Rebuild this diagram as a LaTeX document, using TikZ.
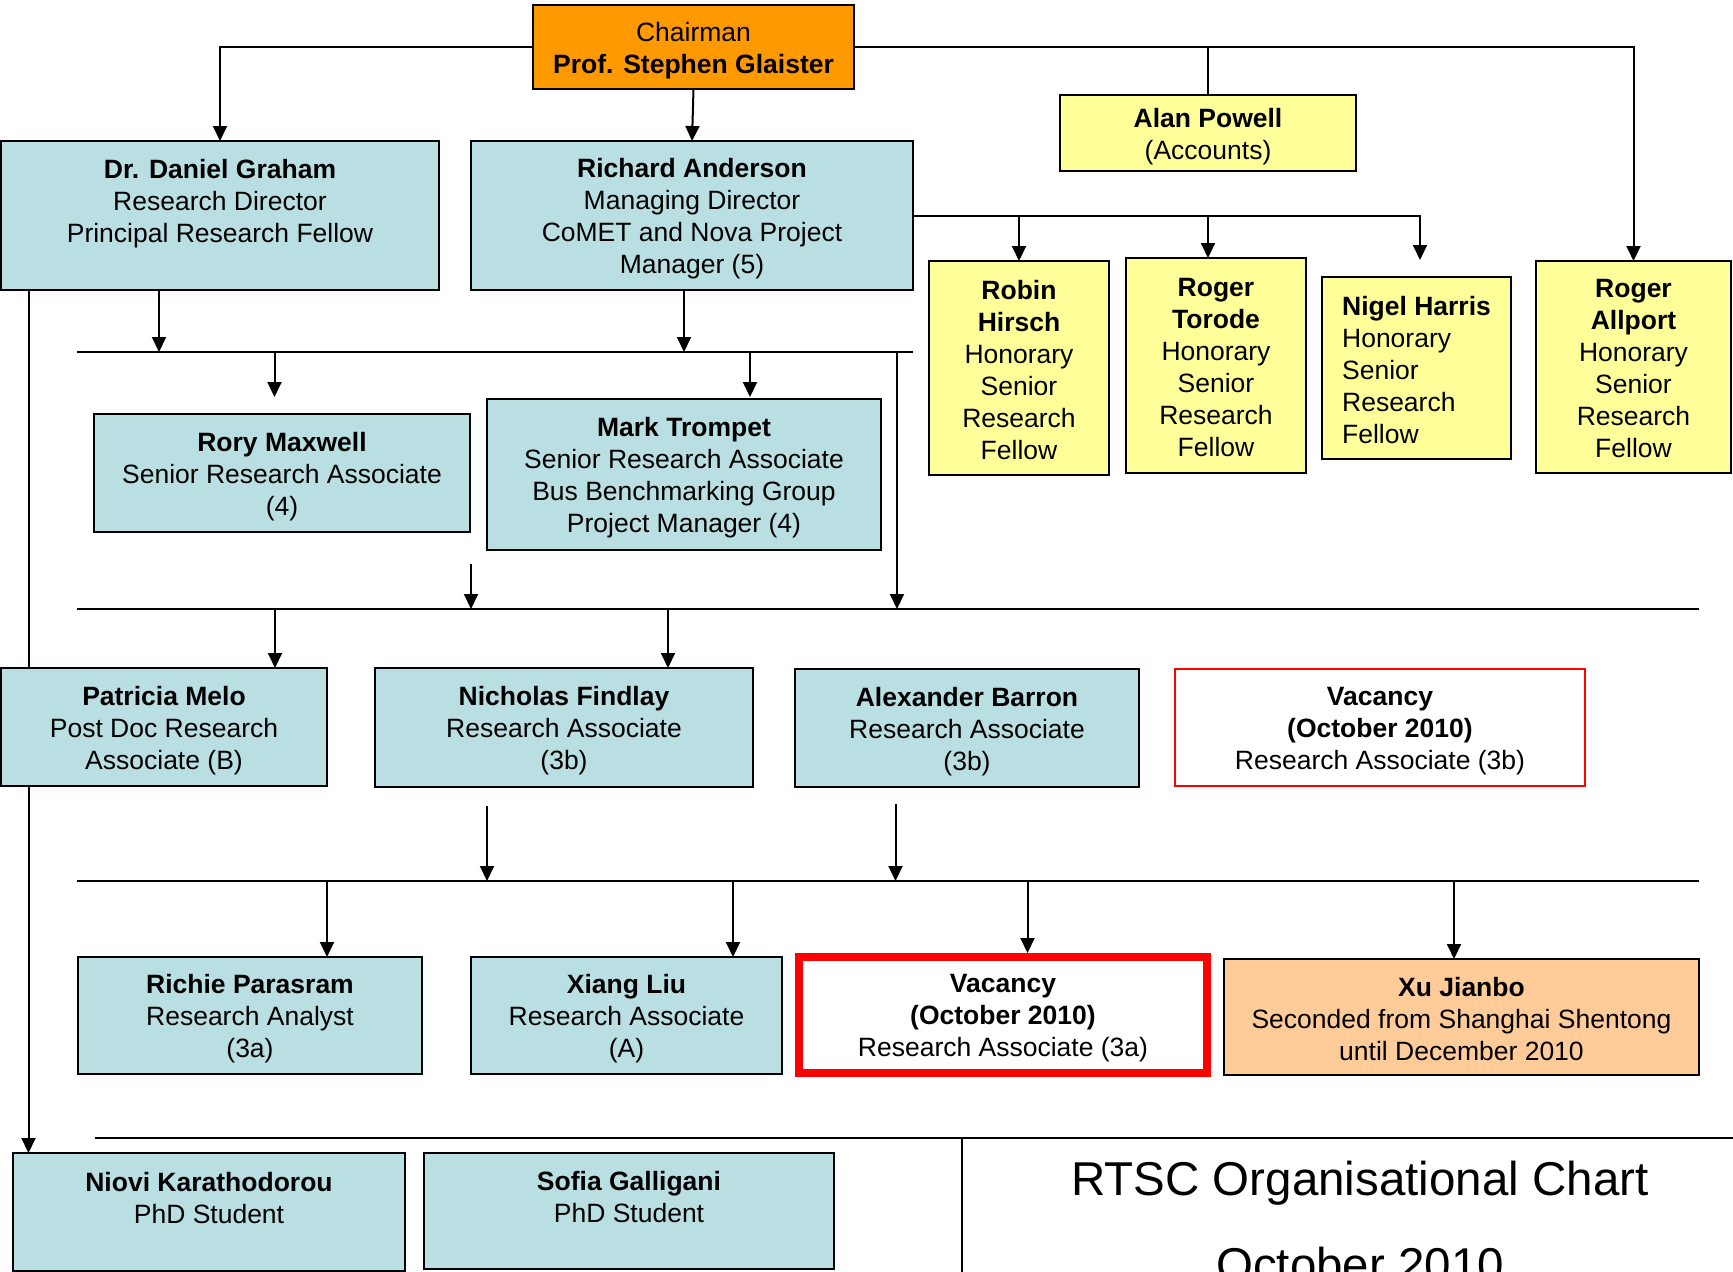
\documentclass[tikz,border=0pt]{standalone}
\usepackage{fontspec}
\setmainfont{Liberation Sans}
\usetikzlibrary{arrows.meta}
\pgfdeclarelayer{bg}
\pgfsetlayers{bg,main}
\definecolor{boxblue}{RGB}{185,223,227}
\definecolor{boxyellow}{RGB}{255,255,153}
\definecolor{boxorange}{RGB}{255,153,0}
\definecolor{boxpeach}{RGB}{255,204,153}
\definecolor{vacred}{RGB}{255,0,0}
\newcommand\topstrut{\rule{0pt}{28.5pt}}
\newcommand\botstrut{\rule[-3.5pt]{0pt}{0pt}}
% #1 box style, #2 name, #3 centre, #4 width, #5 height, #6 text options, #7 text
\newcommand\orgnode[7]{%
  \node[#1, minimum width=#4pt, minimum height=#5pt] (#2) at (#3) {};
  \node[boxtext, #6] (#2-text) at ([yshift=-3.5pt]#2.center) {#7};}
\begin{document}
\begin{tikzpicture}[x=1pt,y=-1pt,
  box/.style={draw=black, line width=2.5pt, inner sep=0pt, outer sep=0pt},
  boxtext/.style={inner sep=0pt, align=center, font=\fontsize{26.5}{32}\selectfont,
    execute at begin node=\topstrut, execute at end node=\botstrut},
  bluebox/.style={box, fill=boxblue},
  yellowbox/.style={box, fill=boxyellow},
  conn/.style={line width=2pt, draw=black},
  arr/.style={conn, -{Triangle[length=15pt,width=14pt]}},
  titletext/.style={font=\fontsize{47.5}{57}\selectfont, anchor=base, inner sep=0pt}]
\useasboundingbox (0,0) rectangle (1733,1272);
\clip (0,0) rectangle (1733,1272);

% ---- boxes ----
\orgnode{box, fill=boxorange}{chair}{693.5,47}{321}{84}{}
  {Chairman\\\textbf{Prof. Stephen Glaister}}
\orgnode{yellowbox}{powell}{1208,133}{296}{76}{}
  {\textbf{Alan Powell}\\(Accounts)}
\orgnode{bluebox}{graham}{220,215.5}{438}{149}{}
  {\textbf{Dr. Daniel Graham}\\Research Director\\Principal Research Fellow\\}
\orgnode{bluebox}{anderson}{692,215.5}{442}{149}{}
  {\textbf{Richard Anderson}\\Managing Director\\CoMET and Nova Project\\Manager (5)}
\orgnode{yellowbox}{robin}{1019,368}{180}{214}{}
  {\textbf{Robin}\\\textbf{Hirsch}\\Honorary\\Senior\\Research\\Fellow}
\orgnode{yellowbox, line width=2.8pt}{torode}{1216,365.5}{180}{215}{}
  {\textbf{Roger}\\\textbf{Torode}\\Honorary\\Senior\\Research\\Fellow}
\orgnode{yellowbox, line width=2.8pt}{nigel}{1416.5,368}{189}{182}{align=left}
  {\textbf{Nigel Harris}\\Honorary\\Senior\\Research\\Fellow}
\orgnode{yellowbox}{allport}{1633.5,367}{195}{212}{}
  {\textbf{Roger}\\\textbf{Allport}\\Honorary\\Senior\\Research\\Fellow}
\orgnode{bluebox}{rory}{282,473}{376}{118}{}
  {\textbf{Rory Maxwell}\\Senior Research Associate\\(4)}
\orgnode{bluebox}{mark}{684,474.5}{394}{151}{}
  {\textbf{Mark Trompet}\\Senior Research Associate\\Bus Benchmarking Group\\Project Manager (4)}
\orgnode{bluebox}{patricia}{164,727}{326}{118}{}
  {\textbf{Patricia Melo}\\Post Doc Research\\Associate (B)}
\orgnode{bluebox}{nicholas}{564,727.5}{378}{119}{}
  {\textbf{Nicholas Findlay}\\Research Associate\\(3b)}
\orgnode{bluebox}{alexander}{967,728}{344}{118}{}
  {\textbf{Alexander Barron}\\Research Associate\\(3b)}
\orgnode{box, draw=vacred, fill=white}{vacb}{1380,727.5}{410}{117}{}
  {\textbf{Vacancy}\\\textbf{(October 2010)}\\Research Associate (3b)}
\orgnode{bluebox}{richie}{250,1015.5}{344}{117}{}
  {\textbf{Richie Parasram}\\Research Analyst\\(3a)}
\orgnode{bluebox}{xiang}{626.5,1015.5}{311}{117}{}
  {\textbf{Xiang Liu}\\Research Associate\\(A)}
\orgnode{box, draw=vacred, fill=white, line width=8pt, outer sep=4pt}{vaca}{1003,1015}{408}{116}{}
  {\textbf{Vacancy}\\\textbf{(October 2010)}\\Research Associate (3a)}
\orgnode{box, fill=boxpeach}{xu}{1461.5,1017}{475}{116}{}
  {\textbf{Xu Jianbo}\\Seconded from Shanghai Shentong\\until December 2010}
\orgnode{bluebox}{niovi}{209,1212}{392}{118}{}
  {\textbf{Niovi Karathodorou}\\PhD Student\\}
\orgnode{bluebox}{sofia}{629,1211}{410}{116}{}
  {\textbf{Sofia Galligani}\\PhD Student\\}

\node[titletext] (title1) at (1360,1195) {RTSC Organisational Chart};
\node[titletext] (title2) at (1360,1281) {October 2010};

% ---- helper coordinates ----
\coordinate (b1l) at (77,352);  \coordinate (b1r) at (913,352);
\coordinate (b2l) at (77,609);  \coordinate (b2r) at (1699,609);
\coordinate (b3l) at (77,881);  \coordinate (b3r) at (1699,881);
\coordinate (b4l) at (95,1138); \coordinate (b4r) at (1733,1138);
\coordinate (nigelarr) at (1420,260);
\coordinate (roryarr) at (274.5,397);
\coordinate (markarr) at (750,397);
\coordinate (rv) at (897,352);
\coordinate (f1) at (471,564);
\coordinate (f2) at (487,806);
\coordinate (f3) at (895.5,804);
\coordinate (lv) at (28.5,290);
\coordinate (dvt) at (962,1138);
\coordinate (dvb) at (962,1272);

% ---- connectors ----
\begin{pgfonlayer}{bg}
\draw[arr] (chair.west) -| (graham.north);
\draw[arr] (chair.south) -- (anderson.north);
\draw[arr] (chair.east) -| (allport.north);
\draw[conn] (powell.north |- chair.east) -- (powell.north);

\draw[arr] (anderson.east) -| (nigelarr);
\draw[arr] (robin.north |- anderson.east) -- (robin.north);
\draw[arr] ([xshift=-8pt]torode.north |- anderson.east) -- ([xshift=-8pt]torode.north);

\draw[conn] (b1l) -- (b1r);
\draw[conn] (b2l) -- (b2r);
\draw[conn] (b3l) -- (b3r);
\draw[conn] (b4l) -- (b4r);
\draw[conn] (dvt) -- (dvb);

\draw[arr] ([xshift=-61pt]graham.south) -- ([xshift=-61pt]graham.south |- b1l);
\draw[arr] ([xshift=-8pt]anderson.south) -- ([xshift=-8pt]anderson.south |- b1l);
\draw[arr] (roryarr |- b1l) -- (roryarr);
\draw[arr] (markarr |- b1l) -- (markarr);
\draw[arr] (rv) -- (rv |- b2l);
\draw[arr] (f1) -- (f1 |- b2l);

\draw[arr] ([xshift=111pt]patricia.north |- b2l) -- ([xshift=111pt]patricia.north);
\draw[arr] ([xshift=104pt]nicholas.north |- b2l) -- ([xshift=104pt]nicholas.north);

\draw[arr] (f2) -- (f2 |- b3l);
\draw[arr] (f3) -- (f3 |- b3l);

\draw[arr] ([xshift=77pt]richie.north |- b3l) -- ([xshift=77pt]richie.north);
\draw[arr] ([xshift=106.5pt]xiang.north |- b3l) -- ([xshift=106.5pt]xiang.north);
\draw[arr] ([xshift=24.5pt]vaca.north |- b3l) -- ([xshift=24.5pt]vaca.north);
\draw[arr] ([xshift=-7.5pt]xu.north |- b3l) -- ([xshift=-7.5pt]xu.north);

\draw[arr] (lv) -- (lv |- niovi.north);
\end{pgfonlayer}
\end{tikzpicture}
\end{document}
